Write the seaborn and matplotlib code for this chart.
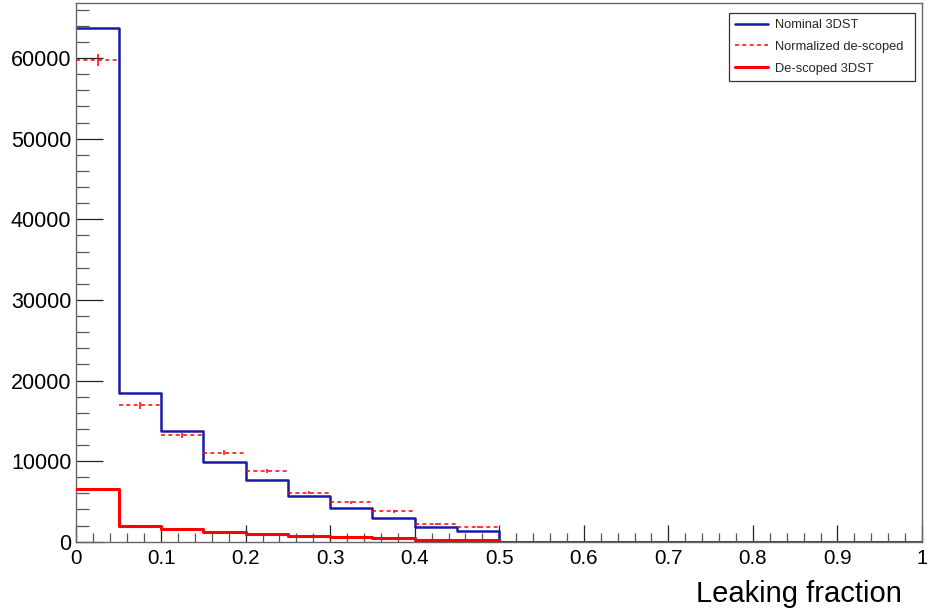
import numpy as np
import pandas as pd
import matplotlib
matplotlib.use("Agg")
import matplotlib.pyplot as plt
import seaborn as sns
from matplotlib.ticker import MultipleLocator, FuncFormatter
from matplotlib.lines import Line2D

# Histogram binning: 20 bins of width 0.05 over [0, 1]
bin_edges = [round(0.05 * i, 2) for i in range(21)]
bin_centers = [round(0.025 + 0.05 * i, 3) for i in range(20)]

# Event counts per bin
nominal_counts = [63700, 18400, 13750, 9950, 7650, 5650, 4150, 3000, 1850, 1380,
                  0, 0, 0, 0, 0, 0, 0, 0, 0, 0]
descoped_counts = [6600, 1950, 1530, 1250, 1000, 700, 560, 430, 250, 200,
                   0, 0, 0, 0, 0, 0, 0, 0, 0, 0]
normalized_counts = [59800, 16900, 13200, 11050, 8800, 6100, 4900, 3800, 2200, 1780,
                     0, 0, 0, 0, 0, 0, 0, 0, 0, 0]
normalized_errors = [730, 390, 345, 315, 280, 235, 210, 185, 140, 125,
                     0, 0, 0, 0, 0, 0, 0, 0, 0, 0]

x_ticks = [0, 0.1, 0.2, 0.3, 0.4, 0.5, 0.6, 0.7, 0.8, 0.9, 1.0]
y_ticks = [0, 10000, 20000, 30000, 40000, 50000, 60000]

BLUE = "#1a1aa8"
RED = "#ff0000"
DASH = (0, (2.6, 2.2))

sns.set_style("white")
plt.rcParams["font.family"] = ["Liberation Sans", "DejaVu Sans"]

fig = plt.figure(figsize=(9.28, 6.08), dpi=100)
ax = fig.add_axes([76.5 / 928, 1 - 541.7 / 608, (922 - 76.5) / 928, (541.7 - 2.5) / 608])

df = pd.DataFrame({
    "x": bin_centers,
    "nominal": nominal_counts,
    "descoped": descoped_counts,
})

# Nominal detector: step histogram
sns.histplot(data=df, x="x", weights="nominal", bins=bin_edges, element="step",
             fill=False, color=BLUE, linewidth=1.8, ax=ax)

# Normalized de-scoped: dashed horizontal bars with vertical error bars
ax.hlines(normalized_counts, [c - 0.025 for c in bin_centers],
          [c + 0.025 for c in bin_centers], colors=RED, linestyles=DASH,
          linewidth=1.1, zorder=3)
ax.vlines(bin_centers, [v - e for v, e in zip(normalized_counts, normalized_errors)],
          [v + e for v, e in zip(normalized_counts, normalized_errors)],
          colors=RED, linewidth=1.1, zorder=3)

# De-scoped detector: step histogram
sns.histplot(data=df, x="x", weights="descoped", bins=bin_edges, element="step",
             fill=False, color=RED, linewidth=2.2, ax=ax, zorder=4)

ax.set_xlim(0, 1)
ax.set_ylim(0, 66900)

ax.set_xticks(x_ticks)
ax.set_yticks(y_ticks)
ax.xaxis.set_minor_locator(MultipleLocator(0.02))
ax.yaxis.set_minor_locator(MultipleLocator(2000))
ax.xaxis.set_major_formatter(FuncFormatter(lambda v, p: "0" if v == 0 else ("1" if v == 1 else f"{v:.1f}")))
ax.yaxis.set_major_formatter(FuncFormatter(lambda v, p: f"{int(v)}"))

ax.tick_params(axis="both", which="both", direction="in", bottom=True, left=True,
               top=False, right=False)
ax.tick_params(axis="both", which="major", colors="#222222", labelcolor="black", width=0.9)
ax.tick_params(axis="y", which="major", length=19.5, pad=3.6, labelsize=15.5)
ax.tick_params(axis="x", which="major", length=12.2, pad=5.6, labelsize=14.8)
ax.tick_params(axis="y", which="minor", length=9.4, width=0.9, colors="#555555")
ax.tick_params(axis="x", which="minor", length=6.5, width=0.9, colors="#555555")

for s in ax.spines.values():
    s.set_color("#666666")
    s.set_linewidth(1.0)
    s.set_visible(True)

ax.set_ylabel("")
ax.set_xlabel("")
fig.text(902 / 928, 1 - 601.5 / 608, "Leaking fraction", ha="right", va="baseline",
         fontsize=21, color="black")

handles = [
    Line2D([], [], color=BLUE, linewidth=1.8),
    Line2D([], [], color=RED, linewidth=1.1, linestyle=DASH),
    Line2D([], [], color=RED, linewidth=2.2),
]
labels = ["Nominal 3DST", "Normalized de-scoped", "De-scoped 3DST"]
leg = ax.legend(handles, labels, loc="upper left",
                bbox_to_anchor=(729 / 928, 1 - 80 / 608, (915 - 729) / 928, (80 - 12.7) / 608),
                bbox_transform=fig.transFigure, mode="expand",
                fontsize=9.3, frameon=True, fancybox=False, handlelength=2.5,
                handletextpad=0.6, labelspacing=0.75, borderpad=0.5, borderaxespad=0)
leg.get_frame().set_edgecolor("black")
leg.get_frame().set_linewidth(0.9)

fig.savefig("out.png", dpi=100)
